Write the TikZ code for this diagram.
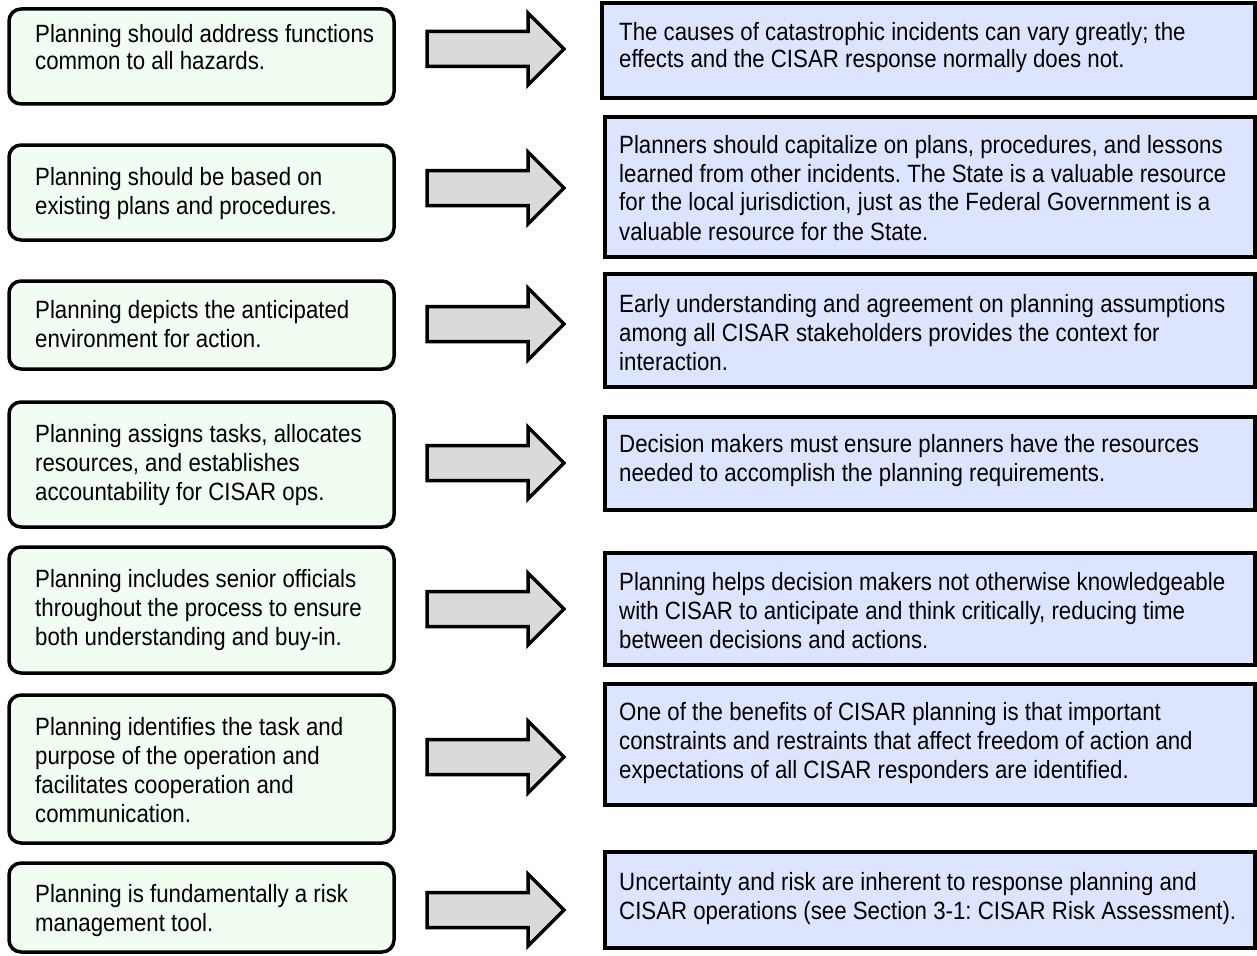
\documentclass[tikz,border=0pt]{standalone}
\usepackage{fontspec}
\setmainfont{Liberation Sans}[FakeStretch=0.89]
\frenchspacing

\definecolor{leftfill}{RGB}{240,253,240}
\definecolor{rightfill}{RGB}{221,228,254}
\definecolor{arrowfill}{RGB}{218,218,218}

\tikzset{
  lbox/.style={draw=black, line width=3.5pt, fill=leftfill, rounded corners=12pt,
    inner sep=0pt, minimum width=385pt},
  rbox/.style={draw=black, line width=3.5pt, fill=rightfill, inner sep=0pt,
    minimum width=650pt},
  ltext/.style={anchor=base west, inner sep=0pt, font=\fontsize{25}{29}\selectfont},
  rtext/.style={anchor=base west, inner sep=0pt, font=\fontsize{25}{29}\selectfont},
  tight/.style={font=\fontsize{25}{27}\selectfont},
  arrowline/.style={draw=black, line width=3.5pt, fill=arrowfill, miter limit=4},
  blockarr/.pic={
    \draw[arrowline] (-68.5,-17.5) -- (32.5,-17.5) -- (32.5,-36) -- (68.5,0)
      -- (32.5,36) -- (32.5,17.5) -- (-68.5,17.5) -- cycle;
  }
}

% top-aligned paragraph whose baseline is that of its first line
\newcommand{\ptxt}[1]{\parbox[t]{640pt}{\raggedright #1}}

\begin{document}
\begin{tikzpicture}[x=1pt,y=-1pt]
\useasboundingbox (0,0) rectangle (1257,955);

% ---------- left column: planning principles ----------
\node[lbox, minimum height=95pt]  (L1) at (201.5,56.5) {};
\node[lbox, minimum height=95pt]  (L2) at (201.5,192.5) {};
\node[lbox, minimum height=88pt]  (L3) at (201.5,325) {};
\node[lbox, minimum height=125pt] (L4) at (201.5,464.5) {};
\node[lbox, minimum height=126pt] (L5) at (201.5,610) {};
\node[lbox, minimum height=148pt] (L6) at (201.5,769) {};
\node[lbox, minimum height=89pt]  (L7) at (201.5,907.5) {};

\node[ltext, tight] (L1t) at (35,43)  {\ptxt{Planning should address functions\\common to all hazards.}};
\node[ltext] (L2t) at (35,185) {\ptxt{Planning should be based on\\existing plans and procedures.}};
\node[ltext] (L3t) at (35,318) {\ptxt{Planning depicts the anticipated\\environment for action.}};
\node[ltext] (L4t) at (35,442) {\ptxt{Planning assigns tasks, allocates\\resources, and establishes\\accountability for CISAR ops.}};
\node[ltext] (L5t) at (35,587) {\ptxt{Planning includes senior officials\\throughout the process to ensure\\both understanding and buy-in.}};
\node[ltext] (L6t) at (35,735) {\ptxt{Planning identifies the task and\\purpose of the operation and\\facilitates cooperation and\\communication.}};
\node[ltext] (L7t) at (35,902) {\ptxt{Planning is fundamentally a risk\\management tool.}};

% ---------- block arrows ----------
\pic (A1) at (495.5,49)  {blockarr};
\pic (A2) at (495.5,188) {blockarr};
\pic (A3) at (495.5,324) {blockarr};
\pic (A4) at (495.5,463) {blockarr};
\pic (A5) at (495.5,609) {blockarr};
\pic (A6) at (495.5,757) {blockarr};
\pic (A7) at (495.5,910) {blockarr};

% ---------- right column: explanations ----------
\node[rbox, minimum width=653pt, minimum height=95pt]  (R1) at (928.5,50.5) {};
\node[rbox, minimum height=140pt] (R2) at (930,187) {};
\node[rbox, minimum height=113pt] (R3) at (930,330.5) {};
\node[rbox, minimum height=93pt]  (R4) at (930,463.5) {};
\node[rbox, minimum height=112pt] (R5) at (930,609) {};
\node[rbox, minimum height=121pt] (R6) at (930,744.5) {};
\node[rbox, minimum height=96pt]  (R7) at (930,900) {};

\node[rtext, tight] (R1t) at (619,41) {\ptxt{The causes of catastrophic incidents can vary greatly; the\\effects and the CISAR response normally does not.}};
\node[rtext] (R2t) at (619,153) {\ptxt{Planners should capitalize on plans, procedures, and lessons\\learned from other incidents. The State is a valuable resource\\for the local jurisdiction, just as the Federal Government is a\\valuable resource for the State.}};
\node[rtext] (R3t) at (619,312) {\ptxt{Early understanding and agreement on planning assumptions\\among all CISAR stakeholders provides the context for\\interaction.}};
\node[rtext] (R4t) at (619,452) {\ptxt{Decision makers must ensure planners have the resources\\needed to accomplish the planning requirements.}};
\node[rtext] (R5t) at (619,590) {\ptxt{Planning helps decision makers not otherwise knowledgeable\\with CISAR to anticipate and think critically, reducing time\\between decisions and actions.}};
\node[rtext] (R6t) at (619,720) {\ptxt{One of the benefits of CISAR planning is that important\\constraints and restraints that affect freedom of action and\\expectations of all CISAR responders are identified.}};
\node[rtext] (R7t) at (619,890) {\ptxt{Uncertainty and risk are inherent to response planning and\\CISAR operations (see Section 3-1: CISAR Risk Assessment).}};
\end{tikzpicture}
\end{document}
